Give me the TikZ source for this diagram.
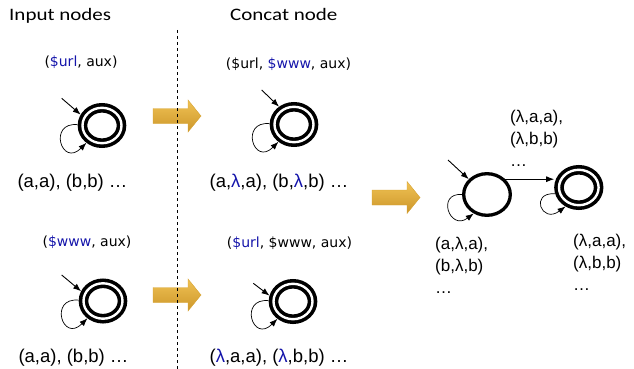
\documentclass[tikz,border=0pt]{standalone}
\usepackage{fontspec}
\setmainfont{Liberation Sans}
\newfontfamily\tupfont{DejaVu Sans}
\newfontfamily\headfont[FakeStretch=1.2]{Carlito}
\usetikzlibrary{arrows.meta,shapes.geometric,calc}
\definecolor{mblue}{RGB}{20,20,170}
\definecolor{goldT}{RGB}{240,194,84}
\definecolor{goldB}{RGB}{204,150,42}
\definecolor{goldE}{RGB}{214,162,48}
\begin{document}
\begin{tikzpicture}[x=1pt,y=-1pt,
  dstate/.style={ellipse, draw, line width=3.6pt, double, double distance=2.4pt,
    minimum width=39pt, minimum height=35.4pt, inner sep=0pt, outer sep=4.8pt},
  sstate/.style={ellipse, draw, line width=3.3pt,
    minimum width=46.6pt, minimum height=41.6pt, inner sep=0pt, outer sep=1.65pt},
  arr/.style={line width=0.9pt, -{Latex[length=8pt,width=6pt]}},
  looparr/.style={line width=0.7pt, -{Latex[length=8pt,width=6pt]}},
  headtxt/.style={font=\headfont\fontsize{17.5}{20}\selectfont, inner sep=0pt, anchor=base west},
  tup/.style={font=\tupfont\fontsize{14}{16}\selectfont, inner sep=0pt},
  lab/.style={font=\fontsize{18.5}{22}\selectfont, inner sep=0pt},
  rlab/.style={font=\fontsize{17}{22}\selectfont, inner sep=0pt, align=left, anchor=base west},
  goldarrow/.pic={\path[top color=goldT, bottom color=goldB, draw=goldE, line width=0.4pt]
    (0,-7.5) -- (35,-7.5) -- (35,-16) -- (48,0) -- (35,16) -- (35,7.5) -- (0,7.5) -- cycle;}
]
\useasboundingbox (0,0) rectangle (634,369);

% headings
\node[headtxt] (h1) at (9,21) {Input nodes};
\node[headtxt] (h2) at (230,21) {Concat node};

% gold arrows
\pic at (153,116) {goldarrow};
\pic at (153,295) {goldarrow};
\pic at (372,197.5) {goldarrow};

% separator
\draw[line width=0.9pt, dash pattern=on 3pt off 3pt] (177.5,30) -- (177.5,369);

% states
\node[dstate] (TL) at (102,125.5) {};
\node[dstate] (TC) at (294,124.5) {};
\node[dstate] (BL) at (103,301) {};
\node[dstate] (BC) at (293,301.5) {};
\node[sstate] (S1) at (487,194.5) {};
\node[dstate, minimum width=39.6pt, minimum height=35.4pt] (S2) at (578.8,187.5) {};

% initial-arrow start points
\coordinate (iTL) at (61.7,98.3);
\coordinate (iTC) at (261.7,90);
\coordinate (iBL) at (61.7,275);
\coordinate (iBC) at (253.3,283.3);
\coordinate (iS1) at (448,160);

\draw[arr] (iTL) -- (TL.153);
\draw[arr] (iTC) -- (TC.130);
\draw[arr] (iBL) -- (BL.156);
\draw[arr] (iBC) -- (BC.166);
\draw[arr] (iS1) -- (S1.140);

% self loops
\foreach \s in {TL,TC,BL,BC}{
  \draw[looparr] (\s.178) .. controls +(-30,-3) and +(-25,25) .. (\s.228);
}
\draw[looparr] (S1.180) .. controls +(-26,-2) and +(-24,18) .. (S1.235);
\draw[looparr] (S2.195) .. controls +(-26,-2) and +(-24,18) .. (S2.235);

% transition
\draw[arr] (S1.40) -- (S1.40 -| S2.west);

% tuple labels
\node[tup] (tTL) at (81,62) {(\textcolor{mblue}{\$url}, aux)};
\node[tup] (tTC) at (288.5,64) {(\$url, \textcolor{mblue}{\$www}, aux)};
\node[tup] (tBL) at (87,242) {(\textcolor{mblue}{\$www}, aux)};
\node[tup] (tBC) at (289.5,243) {(\textcolor{mblue}{\$url}, \$www, aux)};

% relation labels
\node[lab] (lTL) at (72.5,183) {(a,a), (b,b) …};
\node[lab] (lTC) at (279,183) {(a,\textcolor{mblue}{λ},a), (b,\textcolor{mblue}{λ},b) …};
\node[lab] (lBL) at (73.5,358) {(a,a), (b,b) …};
\node[lab] (lBC) at (279,358) {(\textcolor{mblue}{λ},a,a), (\textcolor{mblue}{λ},b,b) …};

% right part labels (anchored at the baseline of the last line)
\node[rlab] (rt) at (510,166.4) {(λ,a,a),\\(λ,b,b)\\…};
\node[rlab] (rbl) at (435,293.4) {(a,λ,a),\\(b,λ,b)\\…};
\node[rlab] (rbr) at (573,290.4) {(λ,a,a),\\(λ,b,b)\\…};
\end{tikzpicture}
\end{document}
